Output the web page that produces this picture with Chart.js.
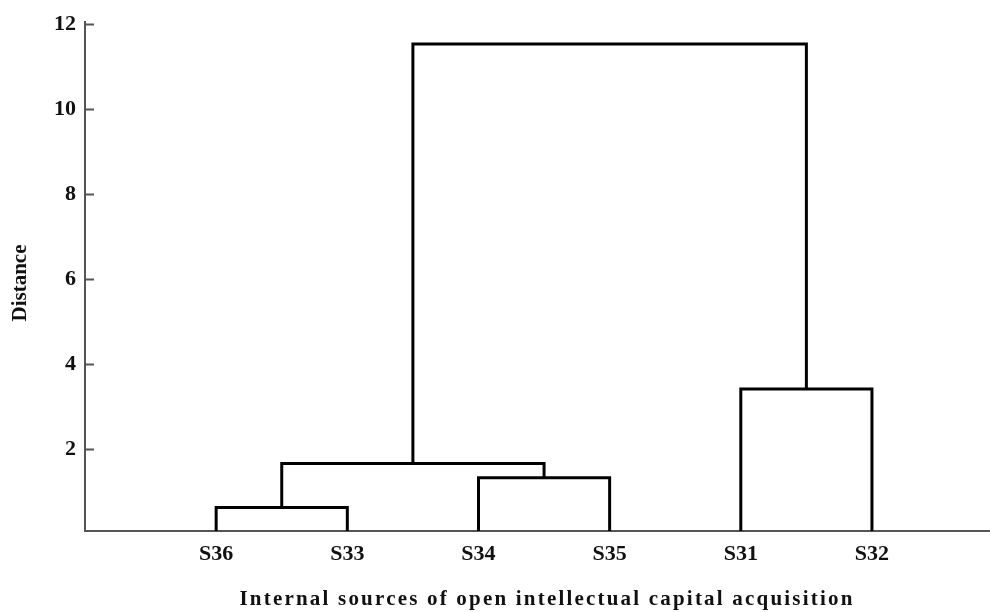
<!DOCTYPE html>
<html lang="en">

<head>
    <meta charset="UTF-8" />
    <title>Dendrogram</title>
    <script src="https://cdn.jsdelivr.net/npm/chart.js"></script>
    <style>
        body {
            margin: 0;
            background: #fff;
        }
    </style>
</head>

<body>
    <canvas id="dendroChart" width="990" height="612"></canvas>
    <script>
        // leaves in the order they are drawn along the x axis
        const leafLabels = ["S36", "S33", "S34", "S35", "S31", "S32"];
        // merge steps: clusters 0-5 are the leaves, each merge makes a new cluster (6, 7, ...)
        const mergeLeft = [0, 2, 6, 4, 8];
        const mergeRight = [1, 3, 7, 5, 9];
        const mergeHeight = [0.63, 1.33, 1.67, 3.42, 11.54];
        const yTicks = [2, 4, 6, 8, 10, 12];

        const yMin = 0.08;
        const fontFamily = "'Liberation Serif', 'Times New Roman', serif";
        const axisColor = "#555";

        // Build the U-shaped links of the tree
        const nodeX = leafLabels.map((_, i) => i + 1);
        const nodeY = leafLabels.map(() => yMin);
        const datasets = [];
        mergeHeight.forEach((h, i) => {
            const a = mergeLeft[i];
            const b = mergeRight[i];
            datasets.push({
                data: [
                    { x: nodeX[a], y: nodeY[a] },
                    { x: nodeX[a], y: h },
                    { x: nodeX[b], y: h },
                    { x: nodeX[b], y: nodeY[b] },
                ],
                showLine: true,
                borderColor: "#000",
                borderWidth: 3,
                borderJoinStyle: "miter",
                borderCapStyle: "butt",
                pointRadius: 0,
                tension: 0,
            });
            nodeX.push((nodeX[a] + nodeX[b]) / 2);
            nodeY.push(h);
        });

        // inward tick marks on the y axis + axis titles
        const extras = {
            id: "extras",
            afterDraw(chart) {
                const ctx = chart.ctx;
                const y = chart.scales.y;
                const area = chart.chartArea;
                ctx.save();
                ctx.strokeStyle = axisColor;
                ctx.lineWidth = 2;
                yTicks.forEach((v) => {
                    const py = Math.round(y.getPixelForValue(v)) + 0.5;
                    ctx.beginPath();
                    ctx.moveTo(area.left, py);
                    ctx.lineTo(area.left + 9, py);
                    ctx.stroke();
                });
                ctx.fillStyle = "#111";
                ctx.textAlign = "center";
                ctx.textBaseline = "middle";
                // y title
                ctx.save();
                ctx.translate(21, 283);
                ctx.rotate(-Math.PI / 2);
                ctx.font = "bold 21px " + fontFamily;
                ctx.fillText("Distance", 0, 0);
                ctx.restore();
                // x title, letter spaced like the original
                ctx.font = "bold 21px " + fontFamily;
                ctx.letterSpacing = "2.2px";
                ctx.fillText("Internal sources of open intellectual capital acquisition", 547, 600);
                ctx.restore();
            },
        };

        const dendroConfig = {
            type: "scatter",
            data: { datasets: datasets },
            options: {
                responsive: false,
                animation: false,
                layout: { padding: { top: 22, left: 0, right: 0, bottom: 0 } },
                plugins: {
                    legend: { display: false },
                    tooltip: { enabled: false },
                },
                scales: {
                    x: {
                        type: "linear",
                        min: 0,
                        max: 6.9,
                        afterBuildTicks: (scale) => {
                            scale.ticks = leafLabels.map((_, i) => ({ value: i + 1 }));
                        },
                        afterFit: (scale) => {
                            scale.height = 81;
                        },
                        ticks: {
                            autoSkip: false,
                            maxRotation: 0,
                            padding: 10,
                            color: "#111",
                            font: { family: fontFamily, size: 22, weight: "bold" },
                            callback: (v) => leafLabels[v - 1],
                        },
                        grid: { drawOnChartArea: false, drawTicks: false },
                        border: { color: axisColor, width: 2 },
                    },
                    y: {
                        min: yMin,
                        max: 12.05,
                        afterBuildTicks: (scale) => {
                            scale.ticks = yTicks.map((v) => ({ value: v }));
                        },
                        afterFit: (scale) => {
                            scale.width = 85;
                        },
                        ticks: {
                            padding: 9,
                            color: "#111",
                            font: { family: fontFamily, size: 22, weight: "bold" },
                        },
                        grid: { drawOnChartArea: false, drawTicks: false },
                        border: { color: axisColor, width: 2 },
                    },
                },
            },
            plugins: [extras],
        };

        new Chart(document.getElementById("dendroChart").getContext("2d"), dendroConfig);
    </script>
</body>

</html>
